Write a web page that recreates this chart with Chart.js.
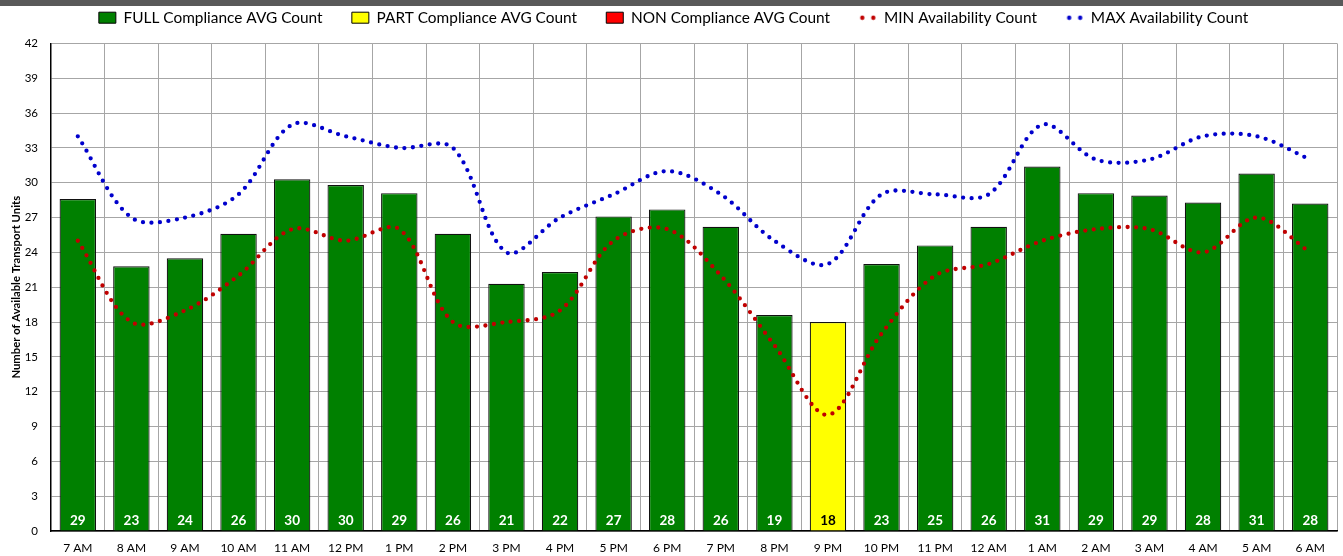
<!DOCTYPE html>
<html>
<head>
<meta charset="utf-8">
<script src="https://cdn.jsdelivr.net/npm/chart.js@4.4.1/dist/chart.umd.min.js"></script>
<style>
  html, body { margin: 0; padding: 0; background: #fff; }
  #wrap { width: 1343px; height: 556px; position: relative; }
</style>
</head>
<body>
<div id="wrap"><canvas id="chart"></canvas></div>
<script>
// hours on the x axis
const hours = ['7 AM', '8 AM', '9 AM', '10 AM', '11 AM', '12 PM', '1 PM', '2 PM', '3 PM', '4 PM', '5 PM', '6 PM',
    '7 PM', '8 PM', '9 PM', '10 PM', '11 PM', '12 AM', '1 AM', '2 AM', '3 AM', '4 AM', '5 AM', '6 AM'];

// average counts per compliance class (null = not in that class)
const fullAvg = [28.6, 22.8, 23.5, 25.6, 30.3, 29.8, 29.1, 25.6, 21.3, 22.3, 27.1, 27.7,
    26.2, 18.6, null, 23.0, 24.6, 26.2, 31.4, 29.1, 28.9, 28.3, 30.8, 28.2];
const partAvg = [null, null, null, null, null, null, null, null, null, null, null, null,
    null, null, 18.0, null, null, null, null, null, null, null, null, null];
const nonAvg = hours.map(() => null);

// min / max availability
const minAvail = [25, 18, 19, 22, 26, 25, 26, 18, 18, 19, 25, 26, 22, 16, 10, 17, 22, 23, 25, 26, 26, 24, 27, 24];
const maxAvail = [34, 27, 27, 29, 35, 34, 33, 33, 24, 27, 29, 31, 29, 25, 23, 29, 29, 29, 35, 32, 32, 34, 34, 32];

const yTicks = { min: 0, max: 42, step: 3 };

// two-dot legend marker for the dotted lines
function dotMarker(color) {
    const c = document.createElement('canvas');
    c.width = 18; c.height = 6;
    const g = c.getContext('2d');
    g.fillStyle = color;
    [3.5, 14.5].forEach(x => { g.beginPath(); g.arc(x, 3, 2.2, 0, Math.PI * 2); g.fill(); });
    return c;
}

// dark strip at the very top
const topBand = {
    id: 'topBand',
    beforeDraw(chart) {
        const ctx = chart.ctx;
        ctx.save();
        ctx.fillStyle = '#595959';
        ctx.fillRect(0, 0, chart.width, 6);
        ctx.restore();
    }
};

// a bit more room between legend and plot
const legendGap = {
    id: 'legendGap',
    afterInit(chart) {
        const legend = chart.legend;
        const fit = legend.fit;
        legend.fit = function () {
            fit.call(this);
            this.height += 8;
        };
    }
};

// rounded values written near the bottom of each bar
const barLabels = {
    id: 'barLabels',
    afterDatasetsDraw(chart) {
        const ctx = chart.ctx;
        const y0 = chart.scales.y.getPixelForValue(0);
        ctx.save();
        ctx.font = 'bold 13.5px Lato';
        ctx.textAlign = 'center';
        ctx.textBaseline = 'middle';
        [0, 1, 2].forEach(di => {
            const meta = chart.getDatasetMeta(di);
            const data = chart.data.datasets[di].data;
            meta.data.forEach((bar, i) => {
                if (data[i] == null) return;
                ctx.fillStyle = di === 1 ? '#000' : '#fff';
                ctx.fillText(String(Math.round(data[i])), bar.x, y0 - 10);
            });
        });
        ctx.restore();
    }
};

const barCommon = { type: 'bar', grouped: false, order: 1, barPercentage: 0.68, categoryPercentage: 1,
    borderColor: '#111', borderWidth: 1.2 };
const lineCommon = { type: 'line', order: 0, borderWidth: 4.3, borderDash: [0, 8.5], borderCapStyle: 'round',
    tension: 0.33, pointRadius: 0, fill: false };

new Chart(document.getElementById('chart'), {
    data: {
        labels: hours,
        datasets: [
            { ...barCommon, label: 'FULL Compliance AVG Count', data: fullAvg, backgroundColor: '#008000', pointStyle: 'rect' },
            { ...barCommon, label: 'PART Compliance AVG Count', data: partAvg, backgroundColor: '#ffff00', pointStyle: 'rect' },
            { ...barCommon, label: 'NON Compliance AVG Count', data: nonAvg, backgroundColor: '#ff0000', pointStyle: 'rect' },
            { ...lineCommon, label: 'MIN Availability Count', data: minAvail, borderColor: '#c00000', pointStyle: dotMarker('#c00000') },
            { ...lineCommon, label: 'MAX Availability Count', data: maxAvail, borderColor: '#0000cc', pointStyle: dotMarker('#0000cc') }
        ]
    },
    options: {
        responsive: true,
        maintainAspectRatio: false,
        animation: false,
        layout: { padding: { top: 0, right: 6, left: 10, bottom: 0 } },
        plugins: {
            tooltip: { enabled: false },
            legend: {
                position: 'top',
                labels: {
                    usePointStyle: true,
                    pointStyleWidth: 17,
                    boxHeight: 11,
                    boxWidth: 17,
                    padding: 10,
                    color: '#000',
                    font: { family: 'Lato', size: 15.4 },
                    sort: (a, b) => a.datasetIndex - b.datasetIndex,
                    generateLabels(chart) {
                        const items = Chart.defaults.plugins.legend.labels.generateLabels(chart);
                        const last = chart.data.datasets.length - 1;
                        items.forEach(it => {
                            const ds = chart.data.datasets[it.datasetIndex];
                            if (ds.type === 'bar') {
                                it.fillStyle = ds.backgroundColor;
                                it.strokeStyle = '#000';
                                it.lineWidth = 1;
                            } else {
                                it.pointStyle = ds.pointStyle;
                                it.lineWidth = 0;
                            }
                            // wider gap between entries
                            if (it.datasetIndex < last) it.text += '\u2003\u2002';
                        });
                        return items;
                    }
                }
            }
        },
        scales: {
            x: {
                offset: true,
                grid: { offset: true, color: '#a6a6a6', lineWidth: 1, drawTicks: false },
                border: { color: '#000', width: 1.5 },
                ticks: { color: '#000', font: { family: 'Lato', size: 12 }, padding: 10, maxRotation: 0, autoSkip: false },
                afterFit(axis) { axis.height = 25; }
            },
            y: {
                min: yTicks.min,
                max: yTicks.max,
                grid: { color: '#a6a6a6', lineWidth: 1, drawTicks: false },
                border: { color: '#000', width: 1.5 },
                ticks: { stepSize: yTicks.step, color: '#000', font: { family: 'Lato', size: 11.5 }, padding: 13 },
                title: { display: true, text: 'Number of Available Transport Units', color: '#000',
                    font: { family: 'Lato', size: 11.3, weight: 'bold' }, padding: 0 },
                afterFit(axis) { axis.width = 41; }
            }
        }
    },
    plugins: [topBand, legendGap, barLabels]
});
</script>
</body>
</html>
